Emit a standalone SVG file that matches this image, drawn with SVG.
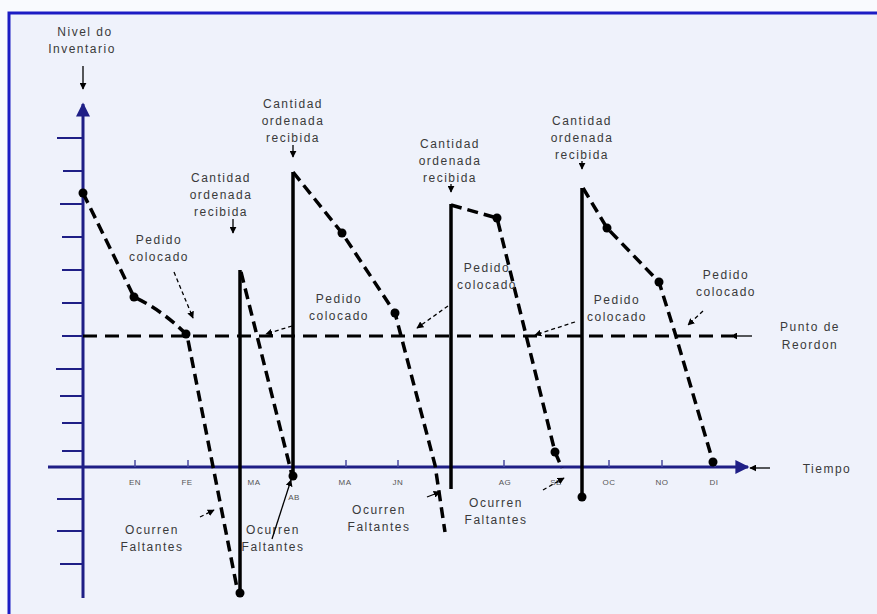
<svg xmlns="http://www.w3.org/2000/svg" width="877" height="614" viewBox="0 0 877 614">
  <defs>
    <style>
      .lbl { font-family: "Liberation Sans", Arial, sans-serif; font-size: 12px; letter-spacing: 1.5px; fill: #3a3a3a; text-anchor: middle; }
      .mon { font-family: "Liberation Sans", Arial, sans-serif; font-size: 8px; letter-spacing: 0.5px; fill: #555; text-anchor: middle; }
      .axis { stroke: #1f1f86; stroke-width: 3; fill: none; }
      .tick { stroke: #1f1f86; stroke-width: 2; }
      .mtick { stroke: #4a4aa0; stroke-width: 1.5; }
      .saw { stroke: #000; stroke-width: 3.5; fill: none; stroke-dasharray: 11 6; }
      .bar { stroke: #000; stroke-width: 3.5; fill: none; }
      .ptr { stroke: #000; stroke-width: 1.3; fill: none; marker-end: url(#head); }
      .ptrd { stroke: #000; stroke-width: 1.3; fill: none; stroke-dasharray: 4 3; marker-end: url(#head); }
      .dot { fill: #000; }
    </style>
    <marker id="head" viewBox="0 0 10 10" refX="9" refY="5" markerWidth="7" markerHeight="7" orient="auto" markerUnits="userSpaceOnUse">
      <path d="M0,0 L10,5 L0,10 z" fill="#000"/>
    </marker>
    <marker id="navyhead" viewBox="0 0 10 10" refX="9" refY="5" markerWidth="16" markerHeight="14" orient="auto" markerUnits="userSpaceOnUse">
      <path d="M0,0 L10,5 L0,10 z" fill="#1f1f86"/>
    </marker>
  </defs>

  <!-- canvas and frame -->
  <rect x="0" y="0" width="877" height="614" fill="#f9fafe"/>
  <rect x="9" y="13" width="880" height="610" fill="#eff2fb" stroke="#1c1cc4" stroke-width="3"/>

  <!-- axes -->
  <g id="axes">
    <line class="axis" x1="83" y1="598" x2="83" y2="104" marker-end="url(#navyhead)"/>
    <line class="axis" x1="48" y1="467" x2="748" y2="467" marker-end="url(#navyhead)"/>
    <g class="tick">
      <line x1="57" y1="138" x2="83" y2="138"/>
      <line x1="63" y1="171" x2="83" y2="171"/>
      <line x1="60" y1="204" x2="83" y2="204"/>
      <line x1="62" y1="237" x2="83" y2="237"/>
      <line x1="62" y1="270" x2="83" y2="270"/>
      <line x1="62" y1="303" x2="83" y2="303"/>
      <line x1="62" y1="336" x2="83" y2="336"/>
      <line x1="56" y1="369" x2="83" y2="369"/>
      <line x1="60" y1="396" x2="83" y2="396"/>
      <line x1="62" y1="423" x2="83" y2="423"/>
      <line x1="62" y1="451" x2="83" y2="451"/>
      <line x1="57" y1="499" x2="83" y2="499"/>
      <line x1="57" y1="531" x2="83" y2="531"/>
      <line x1="60" y1="564" x2="83" y2="564"/>
    </g>
    <g class="mtick">
      <line x1="135" y1="460" x2="135" y2="467"/>
      <line x1="188" y1="460" x2="188" y2="467"/>
      <line x1="346" y1="460" x2="346" y2="467"/>
      <line x1="398" y1="460" x2="398" y2="467"/>
      <line x1="504" y1="460" x2="504" y2="467"/>
      <line x1="609" y1="460" x2="609" y2="467"/>
      <line x1="662" y1="460" x2="662" y2="467"/>
      <line x1="715" y1="460" x2="715" y2="467"/>
    </g>
    <g>
      <text class="mon" x="135" y="485">EN</text>
      <text class="mon" x="187" y="485">FE</text>
      <text class="mon" x="254" y="485">MA</text>
      <text class="mon" x="294" y="500">AB</text>
      <text class="mon" x="345" y="485">MA</text>
      <text class="mon" x="398" y="485">JN</text>
      <text class="mon" x="505" y="485">AG</text>
      <text class="mon" x="556" y="485">SE</text>
      <text class="mon" x="609" y="485">OC</text>
      <text class="mon" x="662" y="485">NO</text>
      <text class="mon" x="714" y="485">DI</text>
    </g>
  </g>

  <!-- reorder level -->
  <g id="reorder">
    <line x1="83" y1="336" x2="733" y2="336" stroke="#000" stroke-width="3" stroke-dasharray="14 8"/>
    <line class="ptr" x1="752" y1="336" x2="731" y2="336"/>
    <text class="lbl" x="810" y="331">Punto de</text>
    <text class="lbl" x="810" y="349">Reordon</text>
  </g>

  <!-- inventory path -->
  <g id="inventory">
    <path class="saw" d="M83,193 L134,297 Q162,310 187,335 L238,593"/>
    <path class="saw" d="M241,272 L292,475"/>
    <path class="saw" d="M293,172 L342,233 L395,313 L435,465 L445,532"/>
    <path class="saw" d="M451,205 L497,218 L555,452 L562,468"/>
    <path class="saw" d="M583,188 L607,228 L659,282 L675,333 L713,462"/>
    <path class="bar" d="M240,593 V270"/>
    <path class="bar" d="M293,476 V172"/>
    <path class="bar" d="M451,489 V204"/>
    <path class="bar" d="M582,497 V188"/>
    <circle class="dot" cx="83" cy="193" r="4.5"/>
    <circle class="dot" cx="134" cy="297" r="4.5"/>
    <circle class="dot" cx="186" cy="334" r="4.5"/>
    <circle class="dot" cx="240" cy="593" r="4.5"/>
    <circle class="dot" cx="293" cy="476" r="4.5"/>
    <circle class="dot" cx="342" cy="233" r="4.5"/>
    <circle class="dot" cx="395" cy="313" r="4.5"/>
    <circle class="dot" cx="497" cy="218" r="4.5"/>
    <circle class="dot" cx="555" cy="452" r="4.5"/>
    <circle class="dot" cx="582" cy="497" r="4.5"/>
    <circle class="dot" cx="607" cy="228" r="4.5"/>
    <circle class="dot" cx="659" cy="282" r="4.5"/>
    <circle class="dot" cx="713" cy="462" r="4.5"/>
  </g>

  <!-- y axis caption -->
  <g id="ylabel">
    <text class="lbl" x="85" y="36">Nivel do</text>
    <text class="lbl" x="82" y="53">Inventario</text>
    <line class="ptr" x1="83" y1="66" x2="83" y2="89"/>
  </g>

  <!-- time caption -->
  <g id="xlabel">
    <line class="ptr" x1="770" y1="468" x2="750" y2="468"/>
    <text class="lbl" x="827" y="473">Tiempo</text>
  </g>

  <!-- received quantities -->
  <g id="recibida1">
    <text class="lbl" x="221" y="182">Cantidad</text>
    <text class="lbl" x="221" y="199">ordenada</text>
    <text class="lbl" x="221" y="216">recibida</text>
    <line class="ptr" x1="233" y1="219" x2="233" y2="233"/>
  </g>
  <g id="recibida2">
    <text class="lbl" x="293" y="108">Cantidad</text>
    <text class="lbl" x="293" y="125">ordenada</text>
    <text class="lbl" x="293" y="142">recibida</text>
    <line class="ptr" x1="293" y1="145" x2="293" y2="157"/>
  </g>
  <g id="recibida3">
    <text class="lbl" x="450" y="148">Cantidad</text>
    <text class="lbl" x="450" y="165">ordenada</text>
    <text class="lbl" x="450" y="182">recibida</text>
    <line class="ptr" x1="451" y1="184" x2="451" y2="192"/>
  </g>
  <g id="recibida4">
    <text class="lbl" x="582" y="125">Cantidad</text>
    <text class="lbl" x="582" y="142">ordenada</text>
    <text class="lbl" x="582" y="159">recibida</text>
    <line class="ptr" x1="582" y1="161" x2="582" y2="169"/>
  </g>

  <!-- orders placed -->
  <g id="pedido1">
    <text class="lbl" x="159" y="244">Pedido</text>
    <text class="lbl" x="159" y="261">colocado</text>
    <line class="ptrd" x1="174" y1="272" x2="193" y2="318"/>
  </g>
  <g id="pedido2">
    <text class="lbl" x="339" y="303">Pedido</text>
    <text class="lbl" x="339" y="320">colocado</text>
    <line class="ptrd" x1="292" y1="326" x2="266" y2="334"/>
  </g>
  <g id="pedido3">
    <text class="lbl" x="487" y="272">Pedido</text>
    <text class="lbl" x="487" y="289">colocado</text>
    <line class="ptrd" x1="448" y1="306" x2="417" y2="328"/>
  </g>
  <g id="pedido4">
    <text class="lbl" x="617" y="304">Pedido</text>
    <text class="lbl" x="617" y="321">colocado</text>
    <line class="ptrd" x1="575" y1="322" x2="535" y2="335"/>
  </g>
  <g id="pedido5">
    <text class="lbl" x="726" y="279">Pedido</text>
    <text class="lbl" x="726" y="296">colocado</text>
    <line class="ptrd" x1="703" y1="311" x2="688" y2="325"/>
  </g>

  <!-- stock-outs -->
  <g id="faltantes1">
    <text class="lbl" x="152" y="534">Ocurren</text>
    <text class="lbl" x="152" y="551">Faltantes</text>
    <line class="ptrd" x1="200" y1="517" x2="214" y2="510"/>
  </g>
  <g id="faltantes2">
    <text class="lbl" x="273" y="534">Ocurren</text>
    <text class="lbl" x="273" y="551">Faltantes</text>
    <line class="ptr" x1="272" y1="539" x2="291" y2="480"/>
  </g>
  <g id="faltantes3">
    <text class="lbl" x="379" y="514">Ocurren</text>
    <text class="lbl" x="379" y="531">Faltantes</text>
    <line class="ptr" x1="427" y1="497" x2="440" y2="492"/>
  </g>
  <g id="faltantes4">
    <text class="lbl" x="496" y="507">Ocurren</text>
    <text class="lbl" x="496" y="524">Faltantes</text>
    <line class="ptrd" x1="543" y1="490" x2="564" y2="478"/>
  </g>
</svg>
